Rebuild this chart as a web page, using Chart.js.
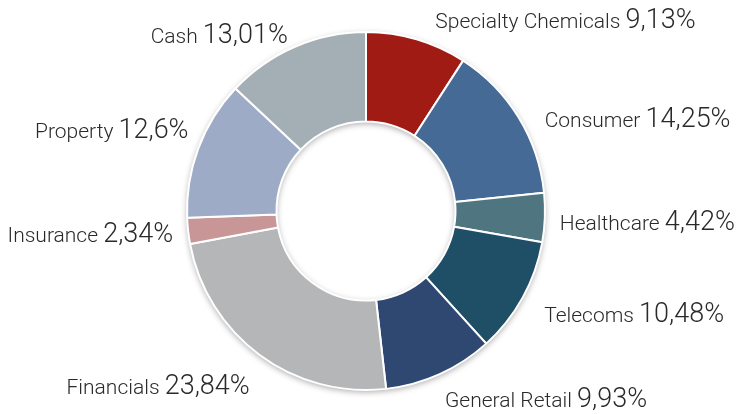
<!DOCTYPE html>
<html>
<head>
<meta charset="utf-8">
<script src="https://cdn.jsdelivr.net/npm/chart.js@4"></script>
<style>
  body { margin: 0; background: #fff; }
  #wrap { width: 741px; height: 414px; }
</style>
</head>
<body>
<div id="wrap"><canvas id="sector-chart"></canvas></div>
<script>
const sectors = ['Specialty Chemicals', 'Consumer', 'Healthcare', 'Telecoms', 'General Retail',
    'Financials', 'Insurance', 'Property', 'Cash'];
const weights = [9.13, 14.25, 4.42, 10.48, 9.93, 23.84, 2.34, 12.6, 13.01];
const pctLabels = ['9,13%', '14,25%', '4,42%', '10,48%', '9,93%', '23,84%', '2,34%', '12,6%', '13,01%'];
const sliceColors = ['#a11b15', '#466a96', '#4e7580', '#1f4f67', '#2e4872',
    '#b5b6b8', '#c99697', '#9eabc6', '#a3afb5'];

// hand placed labels in the original, small nudges from the radial spot
const labelNudge = [[13, 0], [9, 12], [-5, 4], [4, 7], [-3, 7], [2, 15], [5, 1], [9, -11], [1, 7]];

const ringShadow = {
    id: 'ringShadow',
    beforeDatasetsDraw(chart) {
        const arc = chart.getDatasetMeta(0).data[0];
        if (!arc) return;
        const ctx = chart.ctx;
        ctx.save();
        ctx.shadowColor = 'rgba(0,0,0,0.35)';
        ctx.shadowBlur = 6;
        ctx.shadowOffsetY = 2;
        ctx.fillStyle = '#fff';
        ctx.beginPath();
        ctx.arc(arc.x, arc.y, arc.outerRadius, 0, Math.PI * 2);
        ctx.arc(arc.x, arc.y, arc.innerRadius, 0, Math.PI * 2, true);
        ctx.fill();
        ctx.restore();
    }
};

const outerLabels = {
    id: 'outerLabels',
    afterDatasetsDraw(chart) {
        const ctx = chart.ctx;
        const meta = chart.getDatasetMeta(0);
        meta.data.forEach((arc, i) => {
            const mid = (arc.startAngle + arc.endAngle) / 2;
            const r = arc.outerRadius + 20;
            let x = arc.x + Math.cos(mid) * r + labelNudge[i][0];
            const y = arc.y + Math.sin(mid) * r + labelNudge[i][1] + 8;
            const right = Math.cos(mid) >= 0;
            const nameFont = '300 21px Roboto, "Liberation Sans", sans-serif';
            const pctFont = '300 27px Roboto, "Liberation Sans", sans-serif';
            ctx.save();
            ctx.fillStyle = '#2a2a2a';
            ctx.textBaseline = 'alphabetic';
            ctx.font = nameFont;
            const nameText = sectors[i] + ' ';
            const nw = ctx.measureText(nameText).width;
            ctx.font = pctFont;
            const pw = ctx.measureText(pctLabels[i]).width;
            if (!right) x = x - nw - pw;
            ctx.textAlign = 'left';
            ctx.font = nameFont;
            ctx.fillText(nameText, x, y);
            ctx.font = pctFont;
            ctx.fillText(pctLabels[i], x + nw, y);
            ctx.restore();
        });
    }
};

new Chart(document.getElementById('sector-chart'), {
    type: 'doughnut',
    data: {
        labels: sectors,
        datasets: [{
            data: weights,
            backgroundColor: sliceColors,
            borderColor: '#fff',
            borderWidth: 2
        }]
    },
    options: {
        responsive: true,
        maintainAspectRatio: false,
        animation: false,
        cutout: '50%',
        layout: { padding: { top: 31, bottom: 23, left: 0, right: 9 } },
        plugins: {
            legend: { display: false },
            tooltip: { enabled: false }
        }
    },
    plugins: [ringShadow, outerLabels]
});
</script>
</body>
</html>
